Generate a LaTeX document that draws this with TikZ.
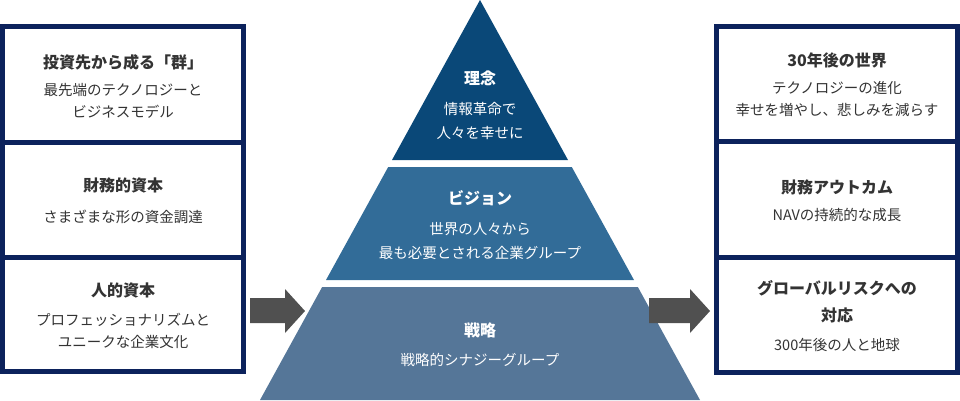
\documentclass[tikz,border=0pt]{standalone}
\usepackage{fontspec}
\setmainfont{Noto Sans CJK JP}
\definecolor{navy}{RGB}{12,34,92}
\definecolor{txt}{RGB}{51,51,51}
\definecolor{pyrA}{RGB}{10,72,120}
\definecolor{pyrB}{RGB}{50,108,152}
\definecolor{pyrC}{RGB}{85,118,152}
\definecolor{arr}{RGB}{80,80,80}
\tikzset{
  frame/.style={fill=navy, draw=none},
  cell/.style={fill=white, draw=none},
  ttl/.style={font=\fontsize{16}{20}\selectfont\bfseries, text=txt, inner sep=0pt, align=center},
  bdy/.style={font=\fontsize{14.5}{22}\selectfont, text=txt, inner sep=0pt, align=center},
  pttl/.style={font=\fontsize{16}{20}\selectfont\bfseries, text=white, inner sep=0pt},
  pbdy/.style={font=\fontsize{14.5}{24}\selectfont, text=white, inner sep=0pt, align=center},
  blockarrow/.style={fill=arr, draw=none}
}
\begin{document}
\begin{tikzpicture}[x=1pt,y=-1pt]
\useasboundingbox (0,0) rectangle (960,400);
% left frame
\fill[frame] (0,24) rectangle (246,374);
\fill[cell] (5,29) rectangle (241,140);
\fill[cell] (5,145) rectangle (241,255);
\fill[cell] (5,260) rectangle (241,369);
\node[ttl] (l1t) at (123,62) {投資先から成る「群」};
\node[bdy] (l1b) at (123,101) {最先端のテクノロジーと\\ビジネスモデル};
\node[ttl] (l2t) at (123,185) {財務的資本};
\node[bdy] (l2b) at (123,217) {さまざまな形の資金調達};
\node[ttl] (l3t) at (123,290) {人的資本};
\node[bdy] (l3b) at (123,331) {プロフェッショナリズムと\\ユニークな企業文化};
% right frame
\fill[frame] (714,24) rectangle (960,375);
\fill[cell] (719,29) rectangle (955,139);
\fill[cell] (719,144) rectangle (955,255);
\fill[cell] (719,260) rectangle (955,370);
\node[ttl] (r1t) at (837,60) {30年後の世界};
\node[bdy] (r1b) at (837,99) {テクノロジーの進化\\幸せを増やし、悲しみを減らす};
\node[ttl] (r2t) at (837,187) {財務アウトカム};
\node[bdy] (r2b) at (837,215) {NAVの持続的な成長};
\node[ttl, font=\fontsize{16}{27}\selectfont\bfseries] (r3t) at (837,301.5) {グローバルリスクへの\\対応};
\node[bdy] (r3b) at (837,345) {300年後の人と地球};
% pyramid
\fill[pyrA] (480,0) -- (392,160) -- (568,160) -- cycle;
\fill[pyrB] (388.2,167) -- (571.8,167) -- (634,280) -- (326,280) -- cycle;
\fill[pyrC] (322.15,287) -- (637.85,287) -- (700,400) -- (260,400) -- cycle;
\node[pttl] (p1t) at (480,78) {理念};
\node[pbdy] (p1b) at (480,120.5) {情報革命で\\人々を幸せに};
\node[pttl] (p2t) at (480,198) {ビジョン};
\node[pbdy] (p2b) at (480,241) {世界の人々から\\最も必要とされる企業グループ};
\node[pttl] (p3t) at (480,330) {戦略};
\node[pbdy] (p3b) at (480,360) {戦略的シナジーグループ};
% arrows
\fill[blockarrow] (250,298) -- (285,298) -- (285,289) -- (305,311) -- (285,333) -- (285,323) -- (250,323) -- cycle;
\fill[blockarrow] (649,298) -- (690,298) -- (690,289) -- (710,311) -- (690,333) -- (690,323) -- (649,323) -- cycle;
\end{tikzpicture}
\end{document}
